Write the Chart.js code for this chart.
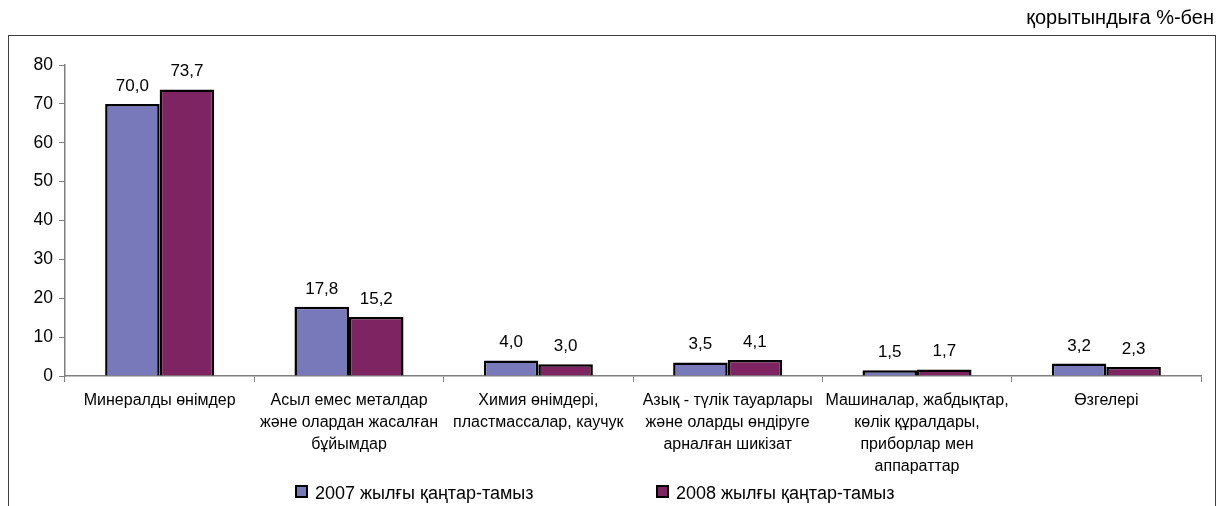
<!DOCTYPE html>
<html>
<head>
<meta charset="utf-8">
<script src="https://cdn.jsdelivr.net/npm/chart.js@4/dist/chart.umd.min.js"></script>
<style>
html,body{margin:0;padding:0;background:#fff;}
#wrap{position:relative;width:1219px;height:506px;}
</style>
</head>
<body>
<div id="wrap"><canvas id="c" width="1219" height="506"></canvas></div>
<script>
const categories = [
  ["Минералды өнімдер"],
  ["Асыл емес металдар", "және олардан жасалған", "бұйымдар"],
  ["Химия өнімдері,", "пластмассалар, каучук"],
  ["Азық - түлік тауарлары", "және оларды өндіруге", "арналған шикізат"],
  ["Машиналар, жабдықтар,", "көлік құралдары,", "приборлар мен", "аппараттар"],
  ["Өзгелері"]
];
const series2007 = [70.0, 17.8, 4.0, 3.5, 1.5, 3.2];
const series2008 = [73.7, 15.2, 3.0, 4.1, 1.7, 2.3];
const seriesNames = ["2007 жылғы қаңтар-тамыз", "2008 жылғы қаңтар-тамыз"];
const yTicks = [0, 10, 20, 30, 40, 50, 60, 70, 80];
const unitNote = "қорытындыға %-бен";

const FONT = "'Liberation Sans', Arial, sans-serif";

const framePlugin = {
  id: 'frame',
  beforeDraw(chart) {
    const ctx = chart.ctx;
    ctx.save();
    ctx.fillStyle = '#fff';
    ctx.fillRect(0, 0, chart.width, chart.height);
    ctx.strokeStyle = '#404040';
    ctx.lineWidth = 1;
    ctx.strokeRect(8.5, 35.5, 1207, 500);
    ctx.fillStyle = '#000';
    ctx.font = '20px ' + FONT;
    ctx.textAlign = 'right';
    ctx.textBaseline = 'alphabetic';
    ctx.fillText(unitNote, 1214, 24);
    ctx.restore();
  }
};

const labelPlugin = {
  id: 'valueLabels',
  afterDatasetsDraw(chart) {
    const ctx = chart.ctx;
    ctx.save();
    ctx.fillStyle = '#000';
    ctx.font = '17px ' + FONT;
    ctx.textAlign = 'center';
    ctx.textBaseline = 'alphabetic';
    chart.data.datasets.forEach((ds, di) => {
      chart.getDatasetMeta(di).data.forEach((bar, i) => {
        const v = ds.data[i].toFixed(1).replace('.', ',');
        ctx.fillText(v, bar.x, bar.y - 13);
      });
    });
    ctx.restore();
  }
};

const legendPlugin = {
  id: 'customLegend',
  afterDraw(chart) {
    const ctx = chart.ctx;
    const xs = [296, 657];
    ctx.save();
    ctx.font = '18px ' + FONT;
    ctx.textBaseline = 'alphabetic';
    ctx.textAlign = 'left';
    chart.data.datasets.forEach((ds, i) => {
      const x = xs[i], y = 492;
      ctx.fillStyle = ds.backgroundColor;
      ctx.fillRect(x, y - 6, 11, 11);
      ctx.strokeStyle = '#000';
      ctx.lineWidth = 2;
      ctx.strokeRect(x, y - 6, 11, 11);
      ctx.fillStyle = '#000';
      ctx.fillText(ds.label, x + 19, y + 7);
    });
    ctx.restore();
  }
};

new Chart(document.getElementById('c'), {
  type: 'bar',
  data: {
    labels: categories,
    datasets: [
      { label: seriesNames[0], data: series2007, backgroundColor: '#7779bb', borderColor: '#000', borderWidth: 2.5,
        categoryPercentage: 0.576, barPercentage: 1.0 },
      { label: seriesNames[1], data: series2008, backgroundColor: '#7f2462', borderColor: '#000', borderWidth: 2.5,
        categoryPercentage: 0.576, barPercentage: 1.0 }
    ]
  },
  options: {
    responsive: false,
    animation: false,
    layout: { padding: { left: 0, right: 18, top: 65, bottom: 0 } },
    plugins: { legend: { display: false }, tooltip: { enabled: false }, title: { display: false } },
    scales: {
      x: {
        grid: { display: true, drawOnChartArea: false, drawTicks: true, tickLength: 6, color: '#808080', offset: true },
        border: { display: true, color: '#808080', width: 1.5 },
        ticks: { color: '#000', font: { family: FONT, size: 16, lineHeight: 1.375 }, padding: 8, maxRotation: 0, autoSkip: false },
        afterFit(scale) { scale.height = 130; }
      },
      y: {
        min: 0, max: 80,
        afterBuildTicks(scale) { scale.ticks = yTicks.map(v => ({ value: v })); },
        grid: { display: true, drawOnChartArea: false, drawTicks: true, tickLength: 6, color: '#808080' },
        border: { display: true, color: '#808080', width: 1.5 },
        ticks: { color: '#000', font: { family: FONT, size: 17.5 }, padding: 6 },
        afterFit(scale) { scale.width = 65; }
      }
    }
  },
  plugins: [framePlugin, labelPlugin, legendPlugin]
});
</script>
</body>
</html>
